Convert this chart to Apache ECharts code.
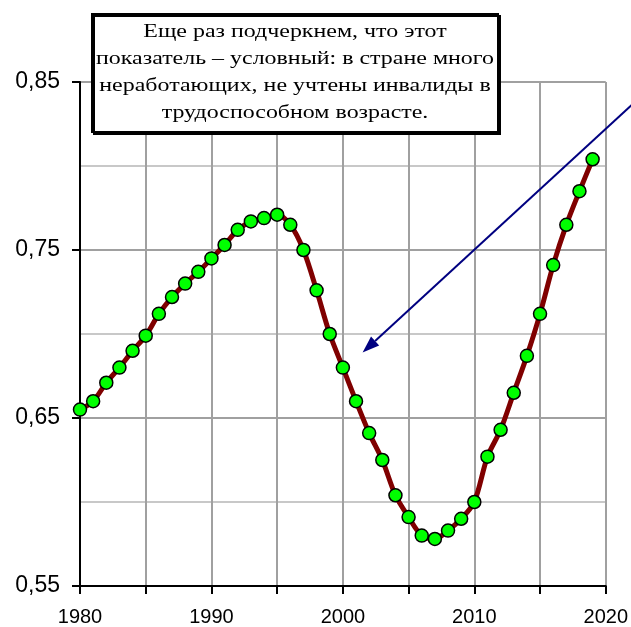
<!DOCTYPE html>
<html>
<head>
<meta charset="utf-8">
<script src="https://cdn.jsdelivr.net/npm/echarts@6/dist/echarts.min.js"></script>
<style>
  html, body { margin: 0; padding: 0; background: #fff; }
  #chart { width: 631px; height: 627px; }
</style>
</head>
<body>
<div id="chart"></div>
<script>
  // годы и значения показателя
  var years = [1980, 1981, 1982, 1983, 1984, 1985, 1986, 1987, 1988, 1989,
               1990, 1991, 1992, 1993, 1994, 1995, 1996, 1997, 1998, 1999,
               2000, 2001, 2002, 2003, 2004, 2005, 2006, 2007, 2008, 2009,
               2010, 2011, 2012, 2013, 2014, 2015, 2016, 2017, 2018, 2019]
  var values = [0.655, 0.660, 0.671, 0.680, 0.690, 0.699, 0.712, 0.722, 0.730, 0.737,
                0.745, 0.753, 0.762, 0.767, 0.769, 0.771, 0.765, 0.750, 0.726, 0.700,
                0.680, 0.660, 0.641, 0.625, 0.604, 0.591, 0.580, 0.578, 0.583, 0.590,
                0.600, 0.627, 0.643, 0.665, 0.687, 0.712, 0.741, 0.765, 0.785, 0.804]
  var noteLines = [
    'Еще раз подчеркнем, что этот',
    'показатель – условный: в стране много',
    'неработающих, не учтены инвалиды в',
    'трудоспособном возрасте.'
  ]
  // стрелка-выноска (в координатах данных)
  var arrowFrom = [2022.9, 0.843]
  var arrowTo = [2001.5, 0.689]

  var chart = echarts.init(document.getElementById('chart'))

  var option = {
    animation: false,
    grid: { left: 80, right: 24, top: 82, bottom: 41 },
    xAxis: {
      type: 'value',
      min: 1980,
      max: 2020,
      interval: 5,
      axisLine: { lineStyle: { color: '#000', width: 2 } },
      axisTick: { show: true, length: 8, lineStyle: { color: '#000', width: 2 } },
      axisLabel: {
        color: '#000',
        fontFamily: 'Liberation Sans, Arial',
        fontSize: 20,
        margin: 21,
        formatter: function (v) { return v % 10 === 0 ? String(v) : '' }
      },
      splitLine: { show: true, lineStyle: { color: '#a0a0a0', width: 2 } }
    },
    yAxis: {
      type: 'value',
      min: 0.55,
      max: 0.85,
      interval: 0.1,
      axisLine: { show: true, lineStyle: { color: '#000', width: 2 } },
      axisTick: { show: true, length: 8, lineStyle: { color: '#000', width: 2 } },
      minorTick: { show: false, splitNumber: 2 },
      minorSplitLine: { show: true, lineStyle: { color: '#c8c8c8', width: 2 } },
      axisLabel: {
        color: '#000',
        fontFamily: 'Liberation Sans, Arial',
        fontSize: 23,
        margin: 20,
        formatter: function (v) { return v.toFixed(2).replace('.', ',') }
      },
      splitLine: { show: true, lineStyle: { color: '#a0a0a0', width: 2 } }
    },
    series: [{
      type: 'line',
      smooth: 0.3,
      data: years.map(function (y, i) { return [y, values[i]] }),
      lineStyle: { color: '#800000', width: 5 },
      symbol: 'circle',
      symbolSize: 13,
      itemStyle: { color: '#00ff00', borderColor: '#000', borderWidth: 1.5 },
      z: 3
    }]
  }

  chart.setOption(option)

  // стрелка и подпись поверх графика
  var p0 = chart.convertToPixel({ gridIndex: 0 }, arrowFrom)
  var p1 = chart.convertToPixel({ gridIndex: 0 }, arrowTo)
  var ang = Math.atan2(p1[1] - p0[1], p1[0] - p0[0])
  var headLen = 17, headHalf = 6
  var bx = p1[0] - headLen * Math.cos(ang), by = p1[1] - headLen * Math.sin(ang)
  var nx = -Math.sin(ang), ny = Math.cos(ang)

  chart.setOption({
    graphic: [{
      type: 'line',
      z: 50,
      shape: { x1: p0[0], y1: p0[1], x2: bx, y2: by },
      style: { stroke: '#000080', lineWidth: 2 }
    }, {
      type: 'polygon',
      z: 50,
      shape: { points: [[p1[0], p1[1]], [bx + nx * headHalf, by + ny * headHalf], [bx - nx * headHalf, by - ny * headHalf]] },
      style: { fill: '#000080' }
    }, {
      type: 'rect',
      z: 100,
      shape: { x: 92, y: 14, width: 406, height: 118 },
      style: { fill: '#fff', stroke: '#000', lineWidth: 2, shadowColor: '#000', shadowOffsetX: 2, shadowOffsetY: 2 }
    }, {
      type: 'text',
      z: 101,
      x: 295,
      y: 73,
      scaleX: 1.26,
      style: {
        text: noteLines.join('\n'),
        fill: '#000',
        font: '19px "Liberation Serif", "Times New Roman", serif',
        lineHeight: 27,
        align: 'center',
        verticalAlign: 'middle'
      }
    }]
  })
</script>
</body>
</html>
